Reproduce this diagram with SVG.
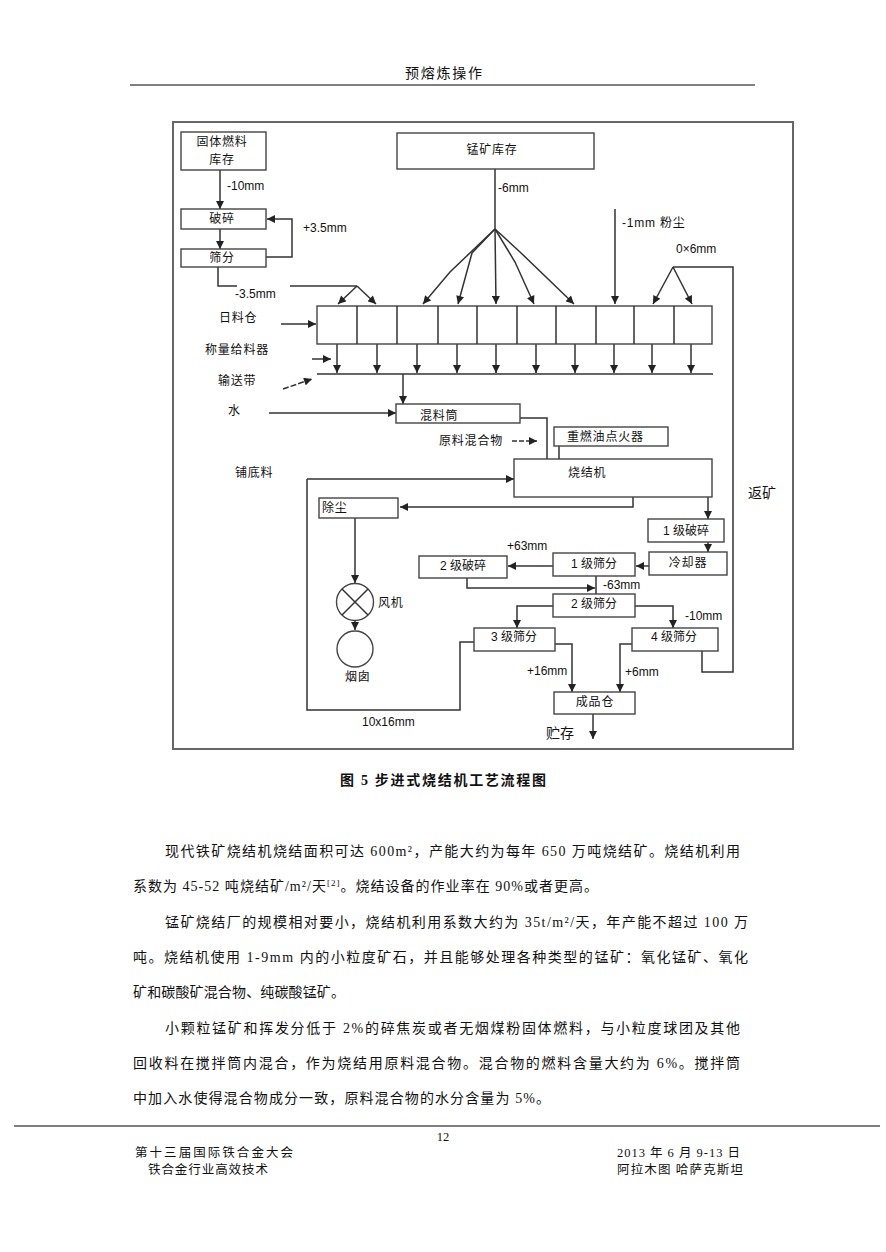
<svg xmlns="http://www.w3.org/2000/svg" width="886" height="1252" viewBox="0 0 886 1252">
<style>
.bg{fill:#fff}
.box{fill:#fff;stroke:#444;stroke-width:1.4}
.ln{fill:none;stroke:#333;stroke-width:1.5}
.ar{fill:none;stroke:#333;stroke-width:1.5;marker-end:url(#ah)}
.t{font-family:"Liberation Sans","Noto Sans CJK SC",sans-serif;font-size:12px;fill:#111}
.c{letter-spacing:0.8px}
.m{text-anchor:middle}
.body{font-family:"Liberation Serif","Noto Sans CJK SC",serif;font-size:14px;fill:#111}
.ft{font-family:"Liberation Serif","Noto Sans CJK SC",serif;font-size:12.5px;fill:#111}
</style>
<defs>
<marker id="ah" viewBox="0 0 10 10" refX="10" refY="5" markerWidth="9" markerHeight="8" markerUnits="userSpaceOnUse" orient="auto">
<path d="M0,0 L10,5 L0,10 z" fill="#222"/>
</marker>
</defs>
<rect class="bg" x="0" y="0" width="886" height="1252"/>

<g id="header">
<text class="body" x="405" y="78" font-size="15" textLength="77">预熔炼操作</text>
<line x1="130" y1="85" x2="755" y2="85" stroke="#000" stroke-width="1"/>
</g>

<g id="frame">
<rect x="173" y="122" width="620" height="627" fill="none" stroke="#666" stroke-width="2"/>
</g>

<g id="connectors">
<!-- solid fuel chain -->
<line class="ar" x1="220" y1="170" x2="220" y2="209"/>
<line class="ar" x1="220" y1="229" x2="220" y2="249"/>
<polyline class="ar" points="266,257 292,257 292,219 267,219"/>
<polyline class="ln" points="218,267 218,286 237,286"/>
<line class="ln" x1="290" y1="286" x2="357" y2="286"/>
<line class="ar" x1="357" y1="286" x2="338" y2="304"/>
<line class="ar" x1="357" y1="286" x2="376" y2="304"/>
<!-- Mn ore -->
<line class="ln" x1="495" y1="169" x2="495" y2="229"/>
<polyline class="ar" points="495,229 450,272 423,304"/>
<polyline class="ar" points="495,229 472,253 458,304"/>
<line class="ar" x1="495" y1="229" x2="496" y2="304"/>
<polyline class="ar" points="495,229 515,262 534,304"/>
<polyline class="ar" points="495,229 520,252 574,304"/>
<!-- dust -->
<line class="ar" x1="615" y1="209" x2="615" y2="304"/>
<!-- return fines -->
<polyline class="ln" points="702,651 702,672 733,672 733,267 673,267"/>
<line class="ar" x1="673" y1="267" x2="653" y2="304"/>
<line class="ar" x1="673" y1="267" x2="692" y2="304"/>
<!-- bins to conveyor -->
<line class="ar" x1="337" y1="344" x2="337" y2="373"/>
<line class="ar" x1="377" y1="344" x2="377" y2="373"/>
<line class="ar" x1="417" y1="344" x2="417" y2="373"/>
<line class="ar" x1="457" y1="344" x2="457" y2="373"/>
<line class="ar" x1="496" y1="344" x2="496" y2="373"/>
<line class="ar" x1="536" y1="344" x2="536" y2="373"/>
<line class="ar" x1="575" y1="344" x2="575" y2="373"/>
<line class="ar" x1="614" y1="344" x2="614" y2="373"/>
<line class="ar" x1="652" y1="344" x2="652" y2="373"/>
<line class="ar" x1="691" y1="344" x2="691" y2="373"/>
<line class="ln" x1="317" y1="374" x2="713" y2="374"/>
<!-- left side pointers -->
<line class="ar" x1="281" y1="324" x2="316" y2="324"/>
<line class="ar" x1="312" y1="359" x2="331" y2="359"/>
<line class="ar" x1="283" y1="389" x2="312" y2="379" stroke-dasharray="6,2"/>
<!-- conveyor to mixer -->
<line class="ar" x1="403" y1="374" x2="403" y2="404"/>
<line class="ar" x1="269" y1="413" x2="396" y2="413"/>
<!-- mixer to sinter -->
<polyline class="ar" points="520,418 547,418 547,473"/>
<line class="ar" x1="512" y1="441" x2="537" y2="441" stroke-dasharray="5,2"/>
<line class="ar" x1="559" y1="446" x2="559" y2="473"/>
<!-- hearth layer -->
<line class="ar" x1="307" y1="479" x2="514" y2="479"/>
<polyline class="ln" points="307,479 307,710 460,710 460,642 474,642"/>
<!-- dedusting -->
<polyline class="ar" points="633,497 633,507 400,507"/>
<line class="ar" x1="355" y1="518" x2="355" y2="583"/>
<line class="ar" x1="355" y1="621" x2="355" y2="630"/>
<!-- sinter to crushing -->
<line class="ar" x1="708" y1="497" x2="708" y2="519"/>
<line class="ar" x1="708" y1="542" x2="708" y2="552"/>
<line class="ar" x1="649" y1="566" x2="636" y2="566"/>
<line class="ar" x1="553" y1="566" x2="508" y2="566"/>
<polyline class="ar" points="467,578 467,588 595,588"/>
<line class="ln" x1="596" y1="576" x2="596" y2="594"/>
<polyline class="ar" points="553,606 517,606 517,628"/>
<polyline class="ar" points="635,606 673,606 673,628"/>
<polyline class="ar" points="555,644 572,644 572,692"/>
<polyline class="ar" points="632,644 620,644 620,692"/>
<line class="ar" x1="593" y1="714" x2="593" y2="739"/>
</g>

<g id="solid-fuel-store">
<rect class="box" x="181" y="132" width="85" height="38"/>
<text class="t c m" x="222" y="146">固体燃料</text>
<text class="t c m" x="222" y="164">库存</text>
</g>
<text class="t" x="227" y="190">-10mm</text>
<g id="crushing">
<rect class="box" x="181" y="209" width="85" height="20"/>
<text class="t c m" x="222" y="223">破碎</text>
</g>
<g id="screening">
<rect class="box" x="181" y="249" width="85" height="18"/>
<text class="t c m" x="222" y="262">筛分</text>
</g>
<text class="t" x="303" y="232">+3.5mm</text>
<text class="t" x="235" y="298">-3.5mm</text>

<g id="mn-ore-store">
<rect class="box" x="397" y="133" width="197" height="36"/>
<text class="t c m" x="492" y="154">锰矿库存</text>
</g>
<text class="t" x="498" y="192">-6mm</text>
<text class="t c" x="622" y="227">-1mm 粉尘</text>
<text class="t" x="676" y="253">0×6mm</text>

<g id="day-bins">
<rect class="box" x="317" y="306" width="395" height="38"/>
<path class="ln" d="M357,306V344M397,306V344M438,306V344M477,306V344M517,306V344M556,306V344M596,306V344M634,306V344M674,306V344" stroke-width="1.3"/>
</g>
<text class="t c" x="219" y="322">日料仓</text>
<text class="t c" x="205" y="354" letter-spacing="1.4">称量给料器</text>
<text class="t c" x="218" y="385">输送带</text>
<text class="t" x="228" y="415">水</text>

<g id="mixer">
<rect class="box" x="396" y="404" width="124" height="19"/>
<text class="t c" x="420" y="420">混料筒</text>
</g>
<text class="t c" x="439" y="445">原料混合物</text>
<g id="igniter">
<rect class="box" x="554" y="427" width="114" height="19"/>
<text class="t c" x="567" y="441">重燃油点火器</text>
</g>
<g id="sinter-strand">
<rect class="box" x="514" y="459" width="198" height="38"/>
<text class="t c" x="568" y="477">烧结机</text>
</g>
<text class="t c" x="235" y="477">铺底料</text>
<text class="body" x="748" y="498" font-size="15">返矿</text>

<g id="dedusting">
<rect class="box" x="319" y="498" width="79" height="20"/>
<text class="t c" x="322" y="512">除尘</text>
</g>
<g id="fan">
<circle class="box" cx="355" cy="602" r="18.5"/>
<path class="ln" d="M342,589L368,615M368,589L342,615" stroke-width="1.2"/>
<text class="t c" x="378" y="607">风机</text>
</g>
<g id="chimney">
<circle class="box" cx="355" cy="649" r="18"/>
<text class="t c" x="345" y="681">烟囱</text>
</g>
<text class="t" x="362" y="726">10x16mm</text>

<g id="crush1">
<rect class="box" x="648" y="519" width="76" height="23"/>
<text class="t m" x="686" y="535">1 级破碎</text>
</g>
<g id="cooler">
<rect class="box" x="649" y="552" width="78" height="23"/>
<text class="t c m" x="688" y="567">冷却器</text>
</g>
<g id="screen1">
<rect class="box" x="553" y="553" width="82" height="23"/>
<text class="t m" x="594" y="568">1 级筛分</text>
</g>
<text class="t" x="507" y="550">+63mm</text>
<g id="crush2">
<rect class="box" x="419" y="556" width="88" height="22"/>
<text class="t m" x="463" y="570">2 级破碎</text>
</g>
<text class="t" x="603" y="589">-63mm</text>
<g id="screen2">
<rect class="box" x="553" y="594" width="82" height="23"/>
<text class="t m" x="594" y="608">2 级筛分</text>
</g>
<text class="t" x="685" y="620">-10mm</text>
<g id="screen3">
<rect class="box" x="474" y="628" width="81" height="23"/>
<text class="t m" x="514" y="641">3 级筛分</text>
</g>
<g id="screen4">
<rect class="box" x="632" y="628" width="86" height="23"/>
<text class="t m" x="674" y="641">4 级筛分</text>
</g>
<text class="t" x="527" y="675">+16mm</text>
<text class="t" x="625" y="676">+6mm</text>
<g id="product-bin">
<rect class="box" x="554" y="692" width="81" height="22"/>
<text class="t c m" x="595" y="706">成品仓</text>
</g>
<text class="body" x="546" y="738" font-size="15">贮存</text>

<g id="caption">
<text class="body" x="340" y="785" font-size="15" font-weight="bold" textLength="206">图 5 步进式烧结机工艺流程图</text>
</g>

<g id="body-text">
<text class="body" x="165" y="856" textLength="575">现代铁矿烧结机烧结面积可达 600m²，产能大约为每年 650 万吨烧结矿。烧结机利用</text>
<text class="body" x="133" y="891" textLength="465">系数为 45-52 吨烧结矿/m²/天<tspan font-size="9" dy="-5">[2]</tspan><tspan dy="5">。烧结设备的作业率在 90%或者更高。</tspan></text>
<text class="body" x="165" y="927" textLength="583">锰矿烧结厂的规模相对要小，烧结机利用系数大约为 35t/m²/天，年产能不超过 100 万</text>
<text class="body" x="133" y="962" textLength="615">吨。烧结机使用 1-9mm 内的小粒度矿石，并且能够处理各种类型的锰矿：氧化锰矿、氧化</text>
<text class="body" x="133" y="997" textLength="212">矿和碳酸矿混合物、纯碳酸锰矿。</text>
<text class="body" x="165" y="1033" textLength="575">小颗粒锰矿和挥发分低于 2%的碎焦炭或者无烟煤粉固体燃料，与小粒度球团及其他</text>
<text class="body" x="133" y="1068" textLength="607">回收料在搅拌筒内混合，作为烧结用原料混合物。混合物的燃料含量大约为 6%。搅拌筒</text>
<text class="body" x="133" y="1103" textLength="417">中加入水使得混合物成分一致，原料混合物的水分含量为 5%。</text>
</g>

<g id="footer">
<line x1="14" y1="1126" x2="880" y2="1126" stroke="#000" stroke-width="1"/>
<text class="ft" x="443" y="1141" text-anchor="middle">12</text>
<text class="ft" x="135" y="1157" textLength="158">第十三届国际铁合金大会</text>
<text class="ft" x="148" y="1174" textLength="120">铁合金行业高效技术</text>
<text class="ft" x="617" y="1157" textLength="123">2013 年 6 月 9-13 日</text>
<text class="ft" x="617" y="1174" textLength="126">阿拉木图 哈萨克斯坦</text>
</g>
</svg>
